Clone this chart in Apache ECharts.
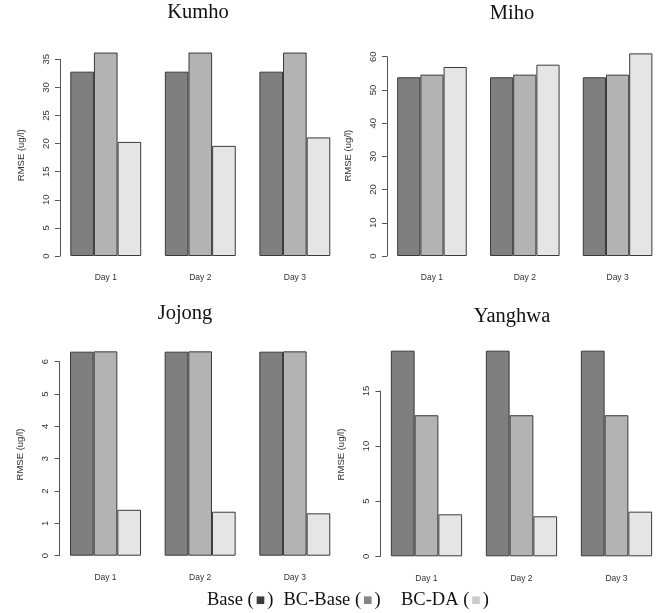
<!DOCTYPE html>
<html>
<head>
<meta charset="utf-8">
<script src="https://cdn.jsdelivr.net/npm/echarts@6/dist/echarts.min.js"></script>
<style>
html,body{margin:0;padding:0;background:#fff;}
#chart{width:664px;height:613px;}
</style>
</head>
<body>
<div id="chart"></div>
<script>
// ---- data ----
const categories = ['Day 1', 'Day 2', 'Day 3'];
const seriesNames = ['Base', 'BC-Base', 'BC-DA'];

const kumhoBase   = [32.8, 32.8, 32.8];
const kumhoBCBase = [36.2, 36.2, 36.2];
const kumhoBCDA   = [20.3, 19.6, 21.1];

const mihoBase    = [53.8, 53.8, 53.8];
const mihoBCBase  = [54.6, 54.6, 54.6];
const mihoBCDA    = [56.9, 57.6, 61.0];

const jojongBase   = [6.31, 6.31, 6.31];
const jojongBCBase = [6.32, 6.32, 6.32];
const jojongBCDA   = [1.42, 1.36, 1.31];

const yanghwaBase   = [18.66, 18.66, 18.66];
const yanghwaBCBase = [12.8, 12.8, 12.8];
const yanghwaBCDA   = [3.81, 3.63, 4.05];

const kumhoTicks   = [0, 5, 10, 15, 20, 25, 30, 35];
const mihoTicks    = [0, 10, 20, 30, 40, 50, 60];
const jojongTicks  = [0, 1, 2, 3, 4, 5, 6];
const yanghwaTicks = [0, 5, 10, 15];

const yTitle = 'RMSE (ug/l)';

// ---- style / layout ----
const fills = ['#7f7f7f', '#b3b3b3', '#e5e5e5'];
const legendSquares = ['#3d3d3d', '#858585', '#cccccc'];
const serif = '"Liberation Serif", "DejaVu Serif", serif';
const sans = '"Liberation Sans", Arial, sans-serif';

const panels = [
  {title: 'Kumho',   series: [kumhoBase, kumhoBCBase, kumhoBCDA],       ticks: kumhoTicks,
   lay: {xa: 70.3, xb: 330.3, y0: 256,   k: 196.7 / 35, tx: 198, ty: 12.5}},
  {title: 'Miho',    series: [mihoBase, mihoBCBase, mihoBCDA],          ticks: mihoTicks,
   lay: {xa: 397.3, xb: 655.7, y0: 256,  k: 199.3 / 60, tx: 512, ty: 14}},
  {title: 'Jojong',  series: [jojongBase, jojongBCBase, jojongBCDA],    ticks: jojongTicks,
   lay: {xa: 70.0, xb: 330.3, y0: 555.7, k: 194 / 6,    tx: 185, ty: 313.5}},
  {title: 'Yanghwa', series: [yanghwaBase, yanghwaBCBase, yanghwaBCDA], ticks: yanghwaTicks,
   lay: {xa: 391.0, xb: 655.7, y0: 556.3, k: 165.3 / 15, tx: 512, ty: 317}}
];

const legendPos = [{x: 207, y: 600}, {x: 283.5, y: 600}, {x: 401, y: 600}];

const grid = [], xAxis = [], yAxis = [], series = [], graphic = [];

panels.forEach((p, i) => {
  const L = p.lay;
  const u = (L.xb - L.xa) / 11;              // one bar width
  const maxV = Math.max(...p.series.flat());
  // R barplot y-limits: range(-0.01*max, max) extended by 4%
  const r0 = -0.01 * maxV, r1 = maxV, span = r1 - r0;
  const lo = r0 - 0.04 * span, hi = r1 + 0.04 * span;
  const top = L.y0 - hi * L.k, bottom = L.y0 - lo * L.k;
  const lastTick = p.ticks[p.ticks.length - 1];
  const step = p.ticks[1] - p.ticks[0];
  const axisX = L.xa - 0.44 * u;

  // bar grid (plot region)
  const gBar = grid.length;
  grid.push({left: L.xa - 0.5 * u, width: 12 * u, top: top, height: bottom - top, containLabel: false});
  xAxis.push({
    type: 'category', gridIndex: gBar, data: categories,
    axisLine: {show: false, onZero: false}, axisTick: {show: false},
    axisLabel: {fontFamily: sans, fontSize: 8.5, color: '#333', margin: 7}
  });
  yAxis.push({
    type: 'value', gridIndex: gBar, min: lo, max: hi,
    axisLine: {show: false}, axisTick: {show: false}, axisLabel: {show: false}, splitLine: {show: false},
    name: yTitle, nameLocation: 'middle', nameGap: 31 + (axisX - (L.xa - 0.5 * u)),
    nameTextStyle: {fontFamily: sans, fontSize: 9.5, color: '#333'}
  });
  p.series.forEach((vals, j) => {
    series.push({
      type: 'bar', name: seriesNames[j], xAxisIndex: gBar, yAxisIndex: gBar,
      data: vals, barWidth: '25%', barGap: '0%',
      itemStyle: {color: fills[j], borderColor: '#3a3a3a', borderWidth: 1},
      emphasis: {disabled: true}, animation: false
    });
  });

  // axis grid (draws y axis from 0 to last tick, like R)
  const gAx = grid.length;
  grid.push({left: axisX, width: 1, top: L.y0 - lastTick * L.k, height: lastTick * L.k});
  xAxis.push({type: 'value', gridIndex: gAx, show: false, min: 0, max: 1});
  yAxis.push({
    type: 'value', gridIndex: gAx, min: 0, max: lastTick, interval: step,
    axisLine: {show: true, lineStyle: {color: '#555', width: 1}},
    axisTick: {show: true, length: 5, lineStyle: {color: '#555', width: 1}},
    axisLabel: {rotate: 90, margin: 9, fontFamily: sans, fontSize: 9.5, color: '#333'},
    splitLine: {show: false}
  });

  graphic.push({
    type: 'text', x: L.tx, y: L.ty,
    style: {text: p.title, font: '20.5px ' + serif, fill: '#111', align: 'center', verticalAlign: 'middle'}
  });
});

// bottom legend text (one piece per series)
seriesNames.forEach((name, j) => {
  graphic.push({
    type: 'text', x: legendPos[j].x, y: legendPos[j].y,
    style: {
      text: name + ' ({s|■})',
      font: '18.5px ' + serif, fill: '#111', verticalAlign: 'middle',
      rich: {s: {fill: legendSquares[j], font: '10px "DejaVu Sans", sans-serif', padding: [0, 2, 0, 2]}}
    }
  });
});

const chart = echarts.init(document.getElementById('chart'), null, {renderer: 'canvas'});
chart.setOption({
  animation: false,
  backgroundColor: '#ffffff',
  grid, xAxis, yAxis, series, graphic
});
</script>
</body>
</html>
